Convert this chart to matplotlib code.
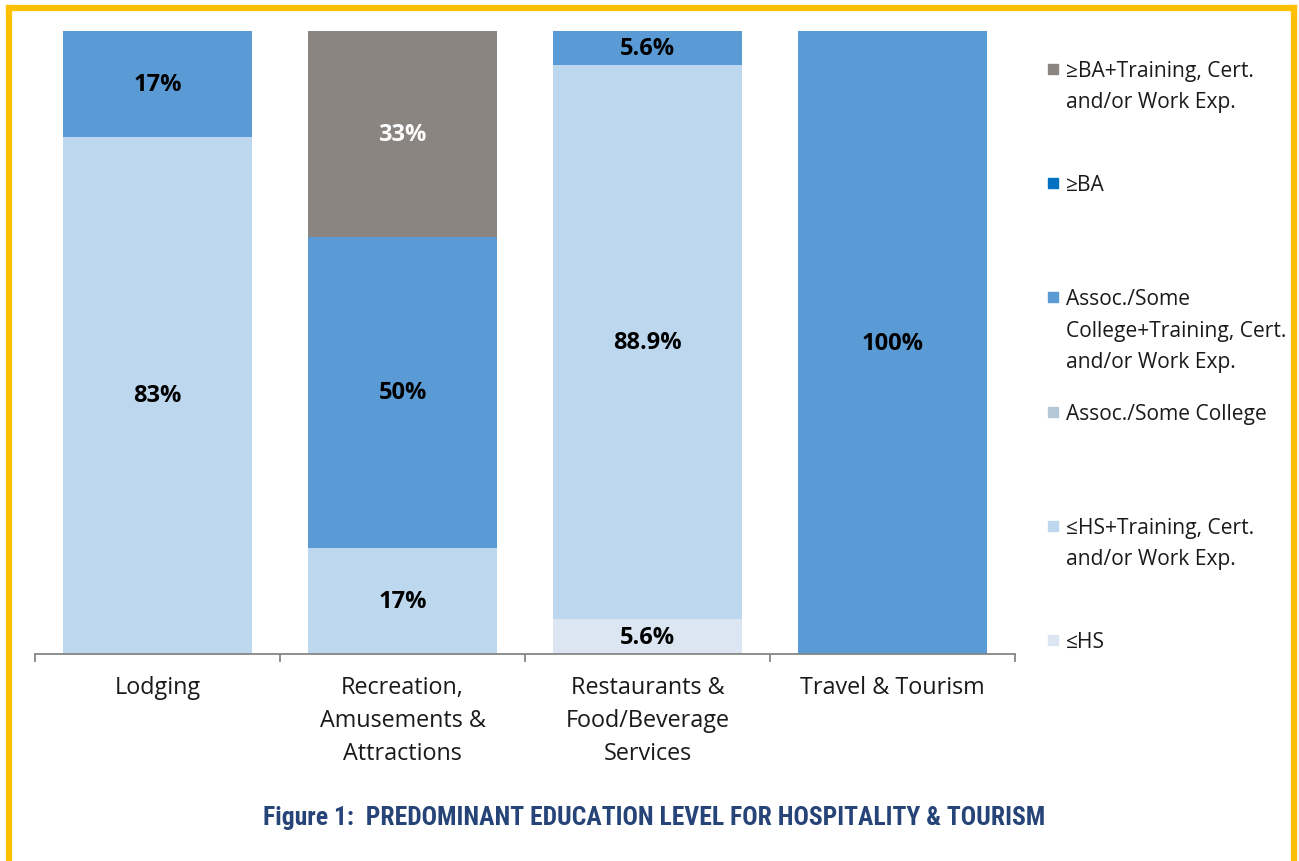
import matplotlib
matplotlib.use("Agg")
import matplotlib.pyplot as plt
from matplotlib.patches import Rectangle
from matplotlib.lines import Line2D

plt.rcParams['font.family'] = ['Open Sans', 'DejaVu Sans']

categories = ["Lodging", "Recreation,\nAmusements &\nAttractions",
              "Restaurants &\nFood/Beverage\nServices", "Travel & Tourism"]

# series, bottom of the stack first
series_names = ["≤HS", "≤HS+Training, Cert.\nand/or Work Exp.", "Assoc./Some College",
                "Assoc./Some\nCollege+Training, Cert.\nand/or Work Exp.", "≥BA",
                "≥BA+Training, Cert.\nand/or Work Exp."]
series_colors = ["#DCE6F2", "#BDD7EE", "#B4C7D7", "#5B9BD5", "#0070C0", "#8B8582"]
hs = [0, 0, 5.6, 0]
hs_train = [83, 17, 88.9, 0]
assoc = [0, 0, 0, 0]
assoc_train = [17, 50, 5.6, 100]
ba = [0, 0, 0, 0]
ba_train = [0, 33, 0, 0]
values = [hs, hs_train, assoc, assoc_train, ba, ba_train]
value_labels = {(0, 1): "83%", (0, 3): "17%",
                (1, 1): "17%", (1, 3): "50%", (1, 5): "33%",
                (2, 0): "5.6%", (2, 1): "88.9%", (2, 3): "5.6%",
                (3, 3): "100%"}
caption = "Figure 1:  PREDOMINANT EDUCATION LEVEL FOR HOSPITALITY & TOURISM"

W, H = 1299, 862
fig = plt.figure(figsize=(W / 100, H / 100), dpi=100)
ax = fig.add_axes([35 / W, (H - 655) / H, (1015 - 35) / W, (655 - 32) / H])

x = range(len(categories))
bottom = [0] * len(categories)
for s, vals in enumerate(values):
    ax.bar(x, vals, width=0.77, bottom=bottom, color=series_colors[s], linewidth=0)
    for i, v in enumerate(vals):
        if (i, s) in value_labels:
            ax.text(i, bottom[i] + v / 2, value_labels[(i, s)], ha='center', va='center',
                    fontsize=17, fontweight='bold',
                    color='white' if s == 5 else 'black')
    bottom = [b + v for b, v in zip(bottom, vals)]

ax.set_xlim(-0.5, len(categories) - 0.5)
ax.set_ylim(0, 100)
for side in ['left', 'right', 'top']:
    ax.spines[side].set_visible(False)
ax.spines['bottom'].set_color('#868686')
ax.spines['bottom'].set_linewidth(1.3)
ax.set_yticks([])
ax.set_xticks([i - 0.5 for i in range(len(categories) + 1)])
ax.set_xticklabels([])
ax.tick_params(axis='x', which='major', length=6, width=1.3, color='#868686', direction='out')
ax.set_xticks(list(x), minor=True)
ax.set_xticklabels(categories, minor=True, fontsize=16.8, linespacing=1.5, color='#1a1a1a')
ax.tick_params(axis='x', which='minor', length=0, pad=15)

# legend, drawn by hand: first lines are evenly spaced like Excel does
leg_y0, leg_step = 70, 114.2
for k, s in enumerate(reversed(range(len(series_names)))):
    yc = leg_y0 + k * leg_step
    fig.patches.append(Rectangle((1048 / W, (H - yc - 5) / H), 10 / W, 10 / H,
                                 transform=fig.transFigure, color=series_colors[s]))
    fig.text(1066 / W, (H - yc + 9) / H, series_names[s], ha='left', va='top',
             fontsize=15.1, linespacing=1.64, color='#1a1a1a')

cap = fig.text(654 / W, (H - 818) / H, caption,
               ha='center', va='center', fontsize=17, fontweight='bold', color='#264478',
               fontstretch='condensed',
               family=['Roboto Condensed', 'Liberation Sans Narrow', 'Liberation Sans', 'DejaVu Sans'])
# fit the caption to the width it takes in the original
fig.canvas.draw()
wpx = cap.get_window_extent().width
cap.set_fontsize(17 * 786 / wpx)

# yellow frame
for xs, ys in [([9, 9], [-10, H - 9]), ([9, 1294], [H - 9, H - 9]), ([1294, 1294], [H - 9, -10])]:
    fig.lines.append(Line2D([v / W for v in xs], [v / H for v in ys], transform=fig.transFigure,
                            color='#FFC000', linewidth=4.5, solid_capstyle='projecting'))

fig.savefig("out.png", dpi=100)
